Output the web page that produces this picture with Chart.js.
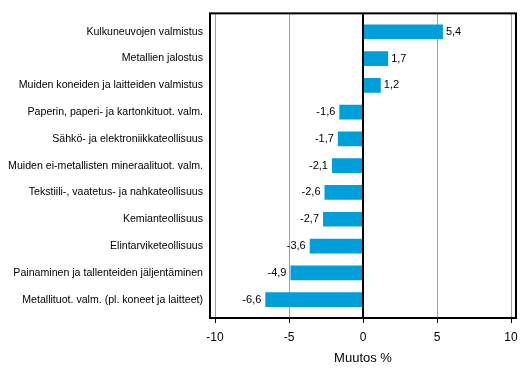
<!DOCTYPE html>
<html>
<head>
<meta charset="utf-8">
<script src="https://cdn.jsdelivr.net/npm/chart.js@4"></script>
<style>
  html, body { margin: 0; padding: 0; background: #fff; }
  #wrap { width: 529px; height: 377px; }
</style>
</head>
<body>
<div id="wrap"><canvas id="chart" width="529" height="377"></canvas></div>
<script>
const categories = [
    'Kulkuneuvojen valmistus',
    'Metallien jalostus',
    'Muiden koneiden ja laitteiden valmistus',
    'Paperin, paperi- ja kartonkituot. valm.',
    'Sähkö- ja elektroniikkateollisuus',
    'Muiden ei-metallisten mineraalituot. valm.',
    'Tekstiili-, vaatetus- ja nahkateollisuus',
    'Kemianteollisuus',
    'Elintarviketeollisuus',
    'Painaminen ja tallenteiden jäljentäminen',
    'Metallituot. valm. (pl. koneet ja laitteet)'
];
const values = [5.4, 1.7, 1.2, -1.6, -1.7, -2.1, -2.6, -2.7, -3.6, -4.9, -6.6];
const xTicks = [-10, -5, 0, 5, 10];
const axisTitle = 'Muutos %';

const fontFamily = '"Liberation Sans", Arial, sans-serif';

// frame, gridlines, tick marks and value labels
const framePlugin = {
    id: 'frame',
    beforeDatasetsDraw(chart) {
        const ctx = chart.ctx;
        const a = chart.chartArea;
        const x = chart.scales.x;
        ctx.save();
        xTicks.forEach(function(t) {
            if (t === 0) return;
            const px = Math.round(x.getPixelForValue(t)) + 0.5;
            ctx.strokeStyle = '#a0a0a0';
            ctx.lineWidth = 1;
            ctx.beginPath();
            ctx.moveTo(px, a.top - 5);
            ctx.lineTo(px, a.bottom + 5);
            ctx.stroke();
        });
        ctx.restore();
    },
    afterDatasetsDraw(chart) {
        const ctx = chart.ctx;
        const a = chart.chartArea;
        const x = chart.scales.x;
        ctx.save();
        // zero line
        const zx = Math.round(x.getPixelForValue(0));
        ctx.strokeStyle = '#000';
        ctx.lineWidth = 2;
        ctx.beginPath();
        ctx.moveTo(zx, a.top - 5);
        ctx.lineTo(zx, a.bottom + 5);
        ctx.stroke();
        // box
        ctx.strokeRect(a.left - 5, a.top - 5, a.right - a.left + 10, a.bottom - a.top + 10);
        // tick marks
        ctx.lineWidth = 1;
        xTicks.forEach(function(t) {
            const px = Math.round(x.getPixelForValue(t)) + 0.5;
            ctx.beginPath();
            ctx.moveTo(px, a.bottom + 5);
            ctx.lineTo(px, a.bottom + 10);
            ctx.stroke();
        });
        // value labels
        ctx.font = '11px ' + fontFamily;
        ctx.fillStyle = '#000';
        ctx.textBaseline = 'middle';
        const meta = chart.getDatasetMeta(0);
        meta.data.forEach(function(bar, i) {
            const v = values[i];
            const txt = v.toFixed(1).replace('.', ',');
            if (v >= 0) {
                ctx.textAlign = 'left';
                ctx.fillText(txt, bar.x + 3, bar.y);
            } else {
                ctx.textAlign = 'right';
                ctx.fillText(txt, bar.x - 4, bar.y);
            }
        });
        ctx.restore();
    }
};

new Chart(document.getElementById('chart'), {
    type: 'bar',
    data: {
        labels: categories,
        datasets: [{
            data: values,
            backgroundColor: '#009fda',
            borderWidth: 0,
            barPercentage: 0.55,
            categoryPercentage: 1
        }]
    },
    options: {
        indexAxis: 'y',
        responsive: false,
        animation: false,
        layout: { padding: { top: 15, right: 18, left: 0, bottom: 0 } },
        plugins: {
            legend: { display: false },
            tooltip: { enabled: false }
        },
        scales: {
            x: {
                min: -10,
                max: 10,
                afterBuildTicks: function(scale) {
                    scale.ticks = xTicks.map(function(v) { return { value: v }; });
                },
                afterFit: function(scale) {
                    scale.height = 64;
                    scale.paddingLeft = 0;
                    scale.paddingRight = 0;
                },
                grid: { display: false, drawTicks: false },
                border: { display: false },
                ticks: {
                    padding: 17,
                    color: '#000',
                    font: { family: fontFamily, size: 12 },
                    maxRotation: 0
                },
                title: {
                    display: true,
                    text: axisTitle,
                    color: '#000',
                    font: { family: fontFamily, size: 13 },
                    padding: { top: 4, bottom: 11 }
                }
            },
            y: {
                afterFit: function(scale) { scale.width = 215; },
                grid: { display: false, drawTicks: false },
                border: { display: false },
                ticks: {
                    padding: 12,
                    color: '#000',
                    font: { family: fontFamily, size: 10.6 }
                }
            }
        }
    },
    plugins: [framePlugin]
});
</script>
</body>
</html>
